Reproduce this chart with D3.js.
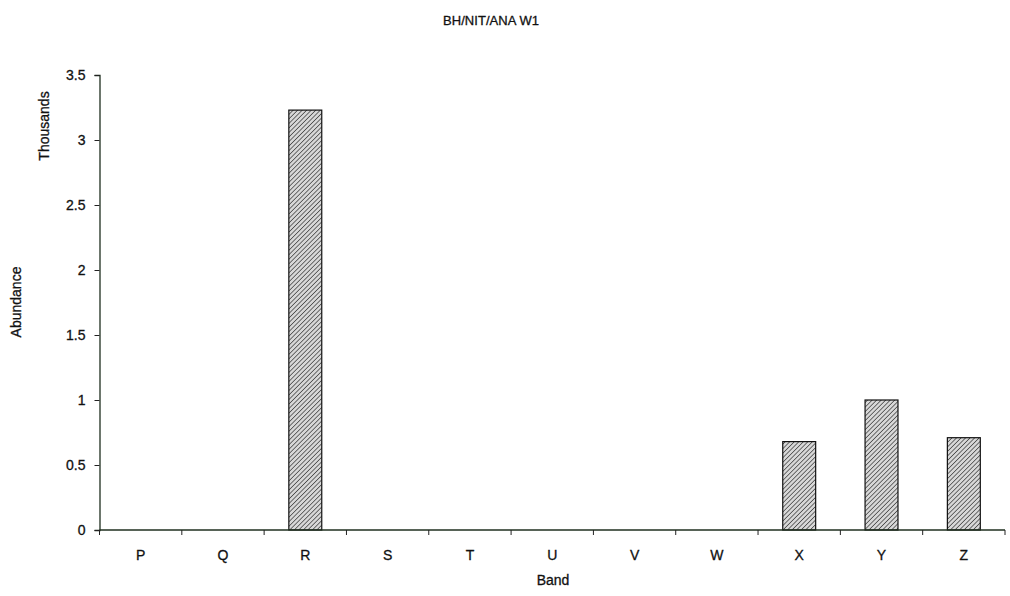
<!DOCTYPE html>
<html><head><meta charset="utf-8">
<script src="https://cdn.jsdelivr.net/npm/d3@7"></script>
<style>
body{margin:0;background:#fff;}
svg{display:block;font-family:"Liberation Sans",Arial,sans-serif;}
svg text{stroke:#111;stroke-width:0.3;}
</style></head>
<body>
<svg id="chart" width="1010" height="596"></svg>
<script>
const categories = ["P","Q","R","S","T","U","V","W","X","Y","Z"];
const values = [0,0,3.23,0,0,0,0,0,0.68,1.0,0.71];
const yTicks = [0,0.5,1,1.5,2,2.5,3,3.5];
const title = "BH/NIT/ANA W1";

const svg = d3.select("#chart");
const m = {left:99.5, right:1005, top:75, bottom:530};

const defs = svg.append("defs");
const pat = defs.append("pattern").attr("id","hatch").attr("patternUnits","userSpaceOnUse")
  .attr("width",3.2).attr("height",3.2).attr("patternTransform","rotate(45)");
pat.append("rect").attr("width",3.2).attr("height",3.2).attr("fill","#d8d8d8");
pat.append("line").attr("x1",0).attr("y1",0).attr("x2",0).attr("y2",3.2)
  .attr("stroke","#3a3a3a").attr("stroke-width",1.4);

const x = d3.scaleBand().domain(categories).range([m.left, m.right]).paddingInner(0.6).paddingOuter(0.3);
const y = d3.scaleLinear().domain([0,3.5]).range([m.bottom, m.top]);

// bars
svg.append("g").selectAll("rect").data(categories.map((c,i)=>({c,v:values[i]})).filter(d=>d.v>0))
  .join("rect")
  .attr("x",d=>x(d.c)).attr("width",x.bandwidth())
  .attr("y",d=>y(d.v)).attr("height",d=>y(0)-y(d.v))
  .attr("fill","url(#hatch)").attr("stroke","#111").attr("stroke-width",1.2);

// y axis
const ya = svg.append("g").attr("transform",`translate(${m.left},0)`)
  .call(d3.axisLeft(y).tickValues(yTicks).tickSize(5).tickPadding(9).tickFormat(d3.format("")));
ya.select(".domain").attr("stroke","#1f2f1f").attr("stroke-width",1.3);
ya.selectAll(".tick line").attr("stroke","#222");
ya.selectAll("text").attr("font-size",14).attr("fill","#111").attr("font-family","Liberation Sans, Arial, sans-serif");

// x axis
const step = x.step();
const xa = svg.append("g").attr("transform",`translate(0,${m.bottom})`);
xa.append("line").attr("x1",m.left).attr("x2",m.right).attr("stroke","#1f2f1f").attr("stroke-width",1.3);
xa.selectAll("line.tk").data(d3.range(categories.length+1)).join("line").attr("class","tk")
  .attr("x1",i=>m.left+i*step).attr("x2",i=>m.left+i*step).attr("y1",0).attr("y2",5).attr("stroke","#222");
xa.selectAll("text").data(categories).join("text")
  .attr("x",d=>x(d)+x.bandwidth()/2).attr("y",30).attr("text-anchor","middle")
  .attr("font-size",14).attr("fill","#111").text(d=>d);

// titles
svg.append("text").attr("x",491).attr("y",25).attr("text-anchor","middle")
  .attr("font-size",13).attr("fill","#111").attr("textLength",96).text(title);
svg.append("text").attr("transform","translate(49,126) rotate(-90)").attr("text-anchor","middle")
  .attr("font-size",14).attr("fill","#111").text("Thousands");
svg.append("text").attr("transform","translate(21,302) rotate(-90)").attr("text-anchor","middle")
  .attr("font-size",14).attr("fill","#111").text("Abundance");
svg.append("text").attr("x",553).attr("y",585).attr("text-anchor","middle")
  .attr("font-size",14).attr("fill","#111").text("Band");
</script>
</body></html>
